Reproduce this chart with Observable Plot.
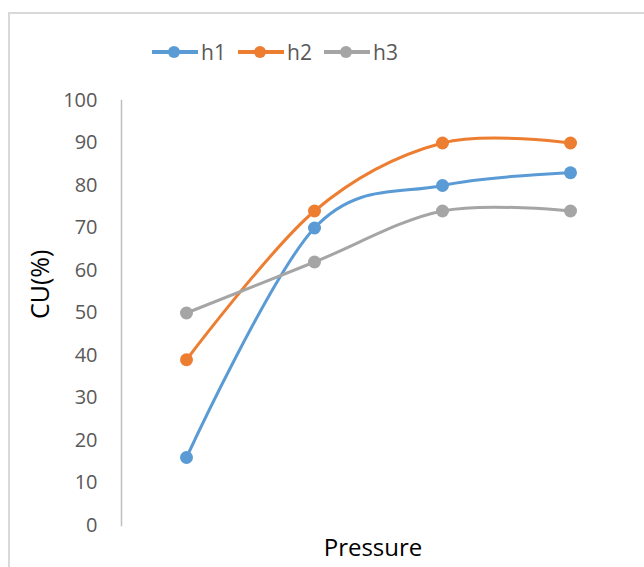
<!DOCTYPE html>
<html>
<head>
<meta charset="utf-8">
<script src="https://cdn.jsdelivr.net/npm/d3@7"></script>
<script src="https://cdn.jsdelivr.net/npm/@observablehq/plot@0.6"></script>
<style>
  html, body { margin: 0; padding: 0; background: #fff; }
  body { width: 644px; height: 567px; position: relative; overflow: hidden; font-family: "Open Sans", sans-serif; }
  #frame { position: absolute; left: 8px; top: 12px; width: 650px; height: 600px; border-left: 2px solid #d9d9d9; border-top: 2px solid #d9d9d9; }
  .item { position: absolute; top: 36px; height: 32px; display: flex; align-items: center; color: #595959; font-size: 21px; }
  .item svg { margin-right: 3px; }
  #chart { position: absolute; left: 0; top: 75px; }
</style>
</head>
<body>
<div id="frame"></div>
<div id="legend"></div>
<div id="chart"></div>
<script>
const categories = ["1", "2", "3", "4"];
const seriesNames = ["h1", "h2", "h3"];
const h1 = [16, 70, 80, 83];
const h2 = [39, 74, 90, 90];
const h3 = [50, 62, 74, 74];
const colors = ["#5B9BD5", "#ED7D31", "#A5A5A5"];
const yTicks = [0, 10, 20, 30, 40, 50, 60, 70, 80, 90, 100];
const yLabel = "CU(%)";
const xLabel = "Pressure";

const seriesValues = [h1, h2, h3];
const data = [];
seriesNames.forEach((s, si) => {
  categories.forEach((c, ci) => data.push({series: s, cat: c, value: seriesValues[si][ci]}));
});

// Legend
const legend = document.getElementById("legend");
const legendLeft = [152, 238, 324];
seriesNames.forEach((s, i) => {
  const item = document.createElement("div");
  item.className = "item";
  item.style.left = legendLeft[i] + "px";
  item.innerHTML = `<svg width="46" height="16"><line x1="0" x2="46" y1="8" y2="8" stroke="${colors[i]}" stroke-width="4"/><circle cx="22" cy="8" r="6" fill="${colors[i]}"/></svg><span>${s}</span>`;
  legend.appendChild(item);
});

const chart = Plot.plot({
  width: 644,
  height: 492,
  marginLeft: 121,
  marginRight: 10,
  marginTop: 25,
  marginBottom: 42,
  style: {fontFamily: "Open Sans, sans-serif", background: "transparent", overflow: "visible"},
  x: {type: "point", domain: categories, padding: 0.5, axis: null},
  y: {domain: [0, 100], axis: null},
  color: {domain: seriesNames, range: colors},
  marks: [
    Plot.frame({anchor: "left", stroke: "#bfbfbf", strokeWidth: 1.5}),
    Plot.axisY({ticks: yTicks, tickSize: 0, tickPadding: 24, label: null, fontSize: 20, fill: "#595959"}),
    Plot.line(data, {x: "cat", y: "value", z: "series", stroke: "series", strokeWidth: 3, curve: "cardinal", tension: 0}),
    Plot.dot(data, {x: "cat", y: "value", fill: "series", r: 6.5}),
    Plot.text([yLabel], {frameAnchor: "left", dx: -81, dy: 6, rotate: -90, text: d => d, fontSize: 25, fill: "#000"}),
    Plot.text([xLabel], {frameAnchor: "bottom", dx: -5, dy: 30, text: d => d, fontSize: 24, fill: "#000"})
  ]
});
document.getElementById("chart").appendChild(chart);
</script>
</body>
</html>
